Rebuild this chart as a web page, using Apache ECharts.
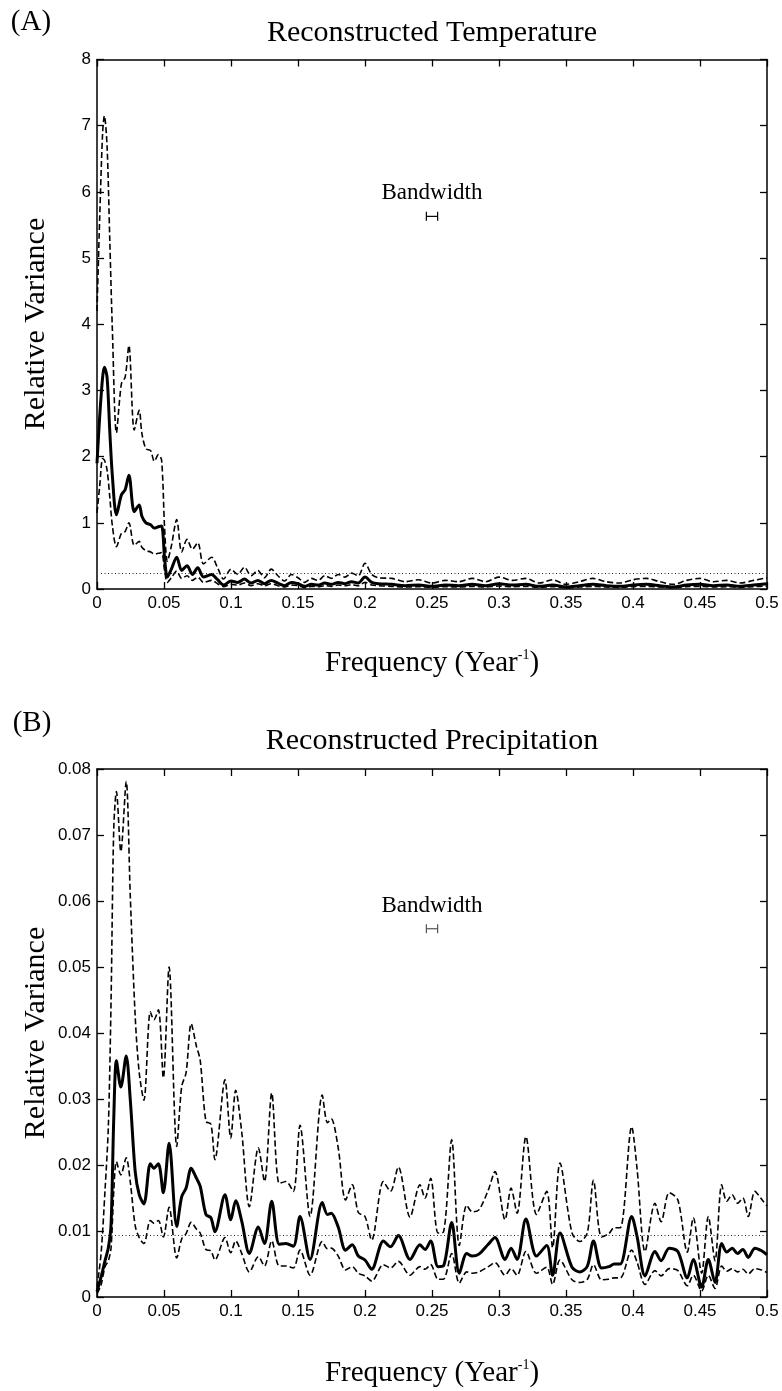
<!DOCTYPE html>
<html>
<head>
<meta charset="utf-8">
<script src="https://cdn.jsdelivr.net/npm/echarts@6/dist/echarts.min.js"></script>
<style>
html,body{margin:0;padding:0;background:#fff;}
#chart{width:782px;height:1391px;}
</style>
</head>
<body>
<div id="chart"></div>
<script>
// ---------- Panel A: Reconstructed Temperature ----------
const freqA = [0, 0.002, 0.0042, 0.0055, 0.0075, 0.0095, 0.0115, 0.0145, 0.0182, 0.021,
 0.0238, 0.0278, 0.0315, 0.0335, 0.0365, 0.040, 0.0428, 0.0458, 0.0482, 0.0505,
 0.0525, 0.0555, 0.0595, 0.0632, 0.0672, 0.0712, 0.0752, 0.0795, 0.0855, 0.090,
 0.0945, 0.100, 0.105, 0.110, 0.115, 0.120, 0.125, 0.130, 0.135, 0.140,
 0.145, 0.150, 0.155, 0.160, 0.165, 0.170, 0.175, 0.180, 0.185, 0.190,
 0.195, 0.200, 0.205, 0.210, 0.22, 0.23, 0.24, 0.25, 0.26, 0.27,
 0.28, 0.29, 0.30, 0.31, 0.32, 0.33, 0.34, 0.35, 0.36, 0.37,
 0.38, 0.39, 0.40, 0.41, 0.42, 0.43, 0.44, 0.45, 0.46, 0.47,
 0.48, 0.49, 0.50];
const solidA = [1.9, 2.6, 3.2, 3.35, 3.2, 2.4, 1.7, 1.12, 1.42, 1.5,
 1.72, 1.17, 1.27, 1.1, 1.0, 0.97, 0.92, 0.94, 0.95, 0.45,
 0.18, 0.3, 0.48, 0.28, 0.35, 0.22, 0.32, 0.18, 0.22, 0.14,
 0.06, 0.12, 0.10, 0.15, 0.09, 0.13, 0.08, 0.13, 0.09, 0.05,
 0.10, 0.08, 0.04, 0.07, 0.06, 0.09, 0.07, 0.10, 0.08, 0.11,
 0.09, 0.18, 0.10, 0.08, 0.07, 0.05, 0.06, 0.04, 0.06, 0.05,
 0.07, 0.05, 0.08, 0.06, 0.07, 0.04, 0.06, 0.03, 0.05, 0.07,
 0.05, 0.04, 0.06, 0.07, 0.05, 0.03, 0.06, 0.07, 0.05, 0.06,
 0.04, 0.06, 0.08];
const upperA = [4.2, 5.6, 6.9, 7.15, 6.7, 5.3, 3.9, 2.36, 3.1, 3.2,
 3.68, 2.4, 2.7, 2.35, 2.12, 2.09, 1.93, 2.03, 1.95, 0.9,
 0.42, 0.65, 1.05, 0.56, 0.75, 0.6, 0.7, 0.38, 0.48, 0.32,
 0.15, 0.30, 0.22, 0.33, 0.20, 0.28, 0.17, 0.30, 0.20, 0.12,
 0.22, 0.17, 0.10, 0.16, 0.13, 0.20, 0.16, 0.22, 0.18, 0.24,
 0.20, 0.39, 0.22, 0.17, 0.16, 0.11, 0.14, 0.09, 0.13, 0.11,
 0.16, 0.11, 0.18, 0.13, 0.16, 0.09, 0.14, 0.07, 0.11, 0.16,
 0.11, 0.09, 0.14, 0.16, 0.11, 0.07, 0.13, 0.16, 0.11, 0.13,
 0.09, 0.13, 0.17];
const lowerA = [1.15, 1.55, 1.97, 1.95, 1.8, 1.4, 0.95, 0.64, 0.84, 0.87,
 1.0, 0.66, 0.72, 0.63, 0.58, 0.56, 0.53, 0.54, 0.55, 0.27,
 0.10, 0.17, 0.27, 0.16, 0.20, 0.13, 0.18, 0.10, 0.13, 0.08,
 0.035, 0.07, 0.06, 0.09, 0.05, 0.08, 0.05, 0.08, 0.05, 0.03,
 0.06, 0.05, 0.02, 0.04, 0.035, 0.05, 0.04, 0.06, 0.05, 0.065,
 0.05, 0.10, 0.06, 0.05, 0.04, 0.03, 0.035, 0.025, 0.035, 0.03,
 0.04, 0.03, 0.045, 0.035, 0.04, 0.025, 0.035, 0.02, 0.03, 0.04,
 0.03, 0.025, 0.035, 0.04, 0.03, 0.02, 0.035, 0.04, 0.03, 0.035,
 0.025, 0.035, 0.045];
const thresholdA = 0.245;
const bandwidthA = [0.2458, 0.2542, 5.63];   // [low freq, high freq, level]

// ---------- Panel B: Reconstructed Precipitation ----------
const freqB = [0, 0.003, 0.006, 0.0085, 0.0105, 0.0125, 0.0145, 0.0178, 0.0218, 0.0248,
 0.0285, 0.0315, 0.035, 0.0398, 0.0425, 0.0458, 0.0495, 0.0538, 0.0595, 0.0632,
 0.0665, 0.0703, 0.0742, 0.077, 0.0813, 0.085, 0.088, 0.0955, 0.0998, 0.1035,
 0.108, 0.1137, 0.1204, 0.125, 0.1304, 0.136, 0.141, 0.1465, 0.1515, 0.159,
 0.1681, 0.172, 0.1748, 0.18, 0.1855, 0.1905, 0.195, 0.2, 0.205, 0.2137,
 0.219, 0.2249, 0.2336, 0.241, 0.2448, 0.249, 0.2545, 0.2585, 0.2647, 0.2704,
 0.2759, 0.28, 0.285, 0.292, 0.297, 0.3045, 0.309, 0.3135, 0.3201, 0.328,
 0.3356, 0.34, 0.3455, 0.3545, 0.3605, 0.366, 0.3705, 0.3765, 0.382, 0.386,
 0.3905, 0.399, 0.403, 0.409, 0.4164, 0.421, 0.427, 0.4335, 0.4405, 0.445,
 0.4512, 0.4562, 0.4612, 0.4662, 0.47, 0.474, 0.478, 0.482, 0.486, 0.491,
 0.496, 0.5];
const solidB = [0.0008, 0.003, 0.0055, 0.0075, 0.011, 0.027, 0.0358, 0.0318, 0.0365, 0.030,
 0.019, 0.0155, 0.0141, 0.0202, 0.0195, 0.0202, 0.0158, 0.0233, 0.0107, 0.0152,
 0.0165, 0.0195, 0.018, 0.0168, 0.0125, 0.012, 0.0099, 0.0155, 0.0117, 0.0146,
 0.0115, 0.0066, 0.0106, 0.0081, 0.0145, 0.008, 0.0081, 0.0077, 0.0122, 0.0057,
 0.0143, 0.0125, 0.0127, 0.0106, 0.0071, 0.0079, 0.0062, 0.0056, 0.0042, 0.0085,
 0.0076, 0.0093, 0.0057, 0.0079, 0.0072, 0.0085, 0.0046, 0.0047, 0.0113, 0.0036,
 0.0066, 0.0062, 0.0065, 0.008, 0.009, 0.0057, 0.0074, 0.0057, 0.0118, 0.0062,
 0.0078, 0.0033, 0.0097, 0.0045, 0.0038, 0.0047, 0.0085, 0.0044, 0.0046, 0.005,
 0.005, 0.0122, 0.0092, 0.0032, 0.0069, 0.0055, 0.0074, 0.0069, 0.0029, 0.0057,
 0.0015, 0.0057, 0.0022, 0.0081, 0.0068, 0.0074, 0.0066, 0.0072, 0.006, 0.0074,
 0.007, 0.0064];
const upperB = [0.0015, 0.0065, 0.0162, 0.026, 0.045, 0.071, 0.0766, 0.0675, 0.0781, 0.061,
 0.0425, 0.034, 0.0298, 0.0432, 0.042, 0.0435, 0.0332, 0.050, 0.0228, 0.0319,
 0.034, 0.0414, 0.038, 0.0359, 0.0266, 0.0262, 0.0208, 0.0329, 0.0241, 0.0313,
 0.025, 0.0137, 0.0226, 0.0175, 0.0309, 0.0172, 0.0175, 0.016, 0.026, 0.0122,
 0.0306, 0.0264, 0.027, 0.0226, 0.0147, 0.017, 0.0128, 0.0122, 0.0086, 0.0175,
 0.016, 0.0197, 0.0121, 0.017, 0.015, 0.018, 0.0097, 0.0098, 0.0238, 0.0078,
 0.0139, 0.0129, 0.0132, 0.0162, 0.019, 0.0117, 0.0165, 0.0127, 0.0243, 0.0125,
 0.016, 0.0075, 0.0203, 0.0097, 0.0084, 0.0098, 0.0177, 0.0091, 0.0096, 0.0105,
 0.0105, 0.0258, 0.0195, 0.0069, 0.0142, 0.0114, 0.0158, 0.0147, 0.0068, 0.012,
 0.0036, 0.0122, 0.0055, 0.017, 0.0145, 0.0155, 0.0142, 0.015, 0.0122, 0.016,
 0.0148, 0.0138];
const lowerB = [0.0005, 0.0018, 0.0046, 0.0055, 0.0075, 0.016, 0.0205, 0.0185, 0.0211, 0.0175,
 0.0108, 0.009, 0.0081, 0.0116, 0.0112, 0.0116, 0.0091, 0.0136, 0.0059, 0.0088,
 0.0096, 0.0113, 0.0103, 0.0097, 0.0072, 0.007, 0.0056, 0.009, 0.0067, 0.0085,
 0.0066, 0.0038, 0.0061, 0.0047, 0.0085, 0.0047, 0.0047, 0.0044, 0.0071, 0.0033,
 0.0084, 0.0073, 0.0074, 0.0062, 0.0041, 0.0046, 0.0036, 0.0032, 0.0024, 0.0049,
 0.0044, 0.0054, 0.0033, 0.0046, 0.0042, 0.0049, 0.0027, 0.0027, 0.0066, 0.0021,
 0.0038, 0.0036, 0.0038, 0.0046, 0.0052, 0.0033, 0.0043, 0.0033, 0.0069, 0.0036,
 0.0045, 0.0019, 0.0056, 0.0026, 0.0022, 0.0027, 0.0049, 0.0026, 0.0027, 0.0029,
 0.0029, 0.0071, 0.0053, 0.0019, 0.004, 0.0032, 0.0043, 0.004, 0.0017, 0.0033,
 0.0009, 0.0033, 0.0013, 0.0047, 0.0039, 0.0043, 0.0038, 0.0042, 0.0035, 0.0043,
 0.0041, 0.0037];
const thresholdB = 0.0093;
const bandwidthB = [0.2458, 0.2542, 0.0558];

const xTicks = {min: 0, max: 0.5, interval: 0.05};
const yTicksA = {min: 0, max: 8, interval: 1};
const yTicksB = {min: 0, max: 0.08, interval: 0.01};

const SERIF = 'Liberation Serif';
const SANS = 'Liberation Sans';

function zip(xs, ys) { return xs.map((x, i) => [x, ys[i]]); }

const lineCol = '#000';
function xAxisDef(grid, pos) {
  return {
    gridIndex: grid, type: 'value', position: pos,
    min: xTicks.min, max: xTicks.max, interval: xTicks.interval,
    axisLine: {show: true, onZero: false, lineStyle: {color: lineCol, width: 1.5}},
    axisTick: {show: true, inside: true, length: 7, lineStyle: {color: lineCol, width: 1.3}},
    axisLabel: {show: pos === 'bottom', color: '#000', fontFamily: SANS, fontSize: 17, margin: 6},
    splitLine: {show: false}
  };
}
function yAxisDef(grid, pos, t) {
  return {
    gridIndex: grid, type: 'value', position: pos,
    min: t.min, max: t.max, interval: t.interval,
    axisLine: {show: true, onZero: false, lineStyle: {color: lineCol, width: 1.5}},
    axisTick: {show: true, inside: true, length: 7, lineStyle: {color: lineCol, width: 1.3}},
    axisLabel: {show: pos === 'left', color: '#000', fontFamily: SANS, fontSize: 17, margin: 6},
    splitLine: {show: false}
  };
}

function dashed(grid, xs, ys) {
  return {
    type: 'line', xAxisIndex: grid * 2, yAxisIndex: grid * 2, data: zip(xs, ys),
    symbol: 'none', smooth: 0.3, clip: true,
    lineStyle: {color: '#000', width: 1.6, type: [6, 3]}, z: 3
  };
}
function solid(grid, xs, ys, thr) {
  return {
    type: 'line', xAxisIndex: grid * 2, yAxisIndex: grid * 2, data: zip(xs, ys),
    symbol: 'none', smooth: 0.3, clip: true,
    lineStyle: {color: '#000', width: 3}, z: 4,
    markLine: {
      silent: true, symbol: 'none', label: {show: false}, animation: false,
      lineStyle: {type: [1, 2.5], color: '#222', width: 1},
      data: [[{coord: [0.003, thr]}, {coord: [xTicks.max, thr]}]]
    }
  };
}
function band(grid, b, col) {
  return {
    type: 'custom', xAxisIndex: grid * 2, yAxisIndex: grid * 2,
    data: [b], encode: {x: [0, 1], y: 2}, z: 5,
    renderItem: function (params, api) {
      const p1 = api.coord([api.value(0), api.value(2)]);
      const p2 = api.coord([api.value(1), api.value(2)]);
      const st = {stroke: col, lineWidth: 1.2};
      return {
        type: 'group', children: [
          {type: 'line', shape: {x1: p1[0], y1: p1[1], x2: p2[0], y2: p2[1]}, style: st},
          {type: 'line', shape: {x1: p1[0], y1: p1[1] - 4.5, x2: p1[0], y2: p1[1] + 4.5}, style: st},
          {type: 'line', shape: {x1: p2[0], y1: p2[1] - 4.5, x2: p2[0], y2: p2[1] + 4.5}, style: st},
          {type: 'text', x: (p1[0] + p2[0]) / 2, y: p1[1] - 23,
           style: {text: 'Bandwidth', font: '23px ' + SERIF, fill: '#000', textAlign: 'center', textVerticalAlign: 'middle'}}
        ]
      };
    }
  };
}

function txt(x, y, s, size, extra) {
  return Object.assign({type: 'text', x: x, y: y, silent: true,
    style: {text: s, font: size + 'px ' + SERIF, fill: '#000', textAlign: 'center', textVerticalAlign: 'middle'}}, extra || {});
}
function freqName(x, y) {
  return {type: 'text', x: x, y: y, silent: true,
    style: {text: '{a|Frequency (Year}{s|-1}{a|)}', textAlign: 'center', textVerticalAlign: 'middle',
      rich: {a: {font: '29px ' + SERIF, fill: '#000'}, s: {font: '14px ' + SERIF, fill: '#000', verticalAlign: 'top'}}}};
}

const chart = echarts.init(document.getElementById('chart'), null, {renderer: 'canvas'});
chart.setOption({
  animation: false,
  backgroundColor: '#fff',
  grid: [
    {left: 97, top: 59.5, width: 670, height: 529.5},
    {left: 97, top: 769, width: 670, height: 528}
  ],
  xAxis: [xAxisDef(0, 'bottom'), xAxisDef(0, 'top'), xAxisDef(1, 'bottom'), xAxisDef(1, 'top')],
  yAxis: [yAxisDef(0, 'left', yTicksA), yAxisDef(0, 'right', yTicksA), yAxisDef(1, 'left', yTicksB), yAxisDef(1, 'right', yTicksB)],
  series: [
    dashed(0, freqA, upperA), dashed(0, freqA, lowerA), solid(0, freqA, solidA, thresholdA), band(0, bandwidthA, '#000'),
    dashed(1, freqB, upperB), dashed(1, freqB, lowerB), solid(1, freqB, solidB, thresholdB), band(1, bandwidthB, '#555')
  ],
  graphic: [
    txt(31, 22, '(A)', 29),
    txt(432, 33, 'Reconstructed Temperature', 30),
    txt(36, 324, 'Relative Variance', 30, {rotation: Math.PI / 2}),
    freqName(432, 663),
    txt(32, 723, '(B)', 29),
    txt(432, 741, 'Reconstructed Precipitation', 30),
    txt(36, 1033, 'Relative Variance', 30, {rotation: Math.PI / 2}),
    freqName(432, 1373)
  ]
});
</script>
</body>
</html>
